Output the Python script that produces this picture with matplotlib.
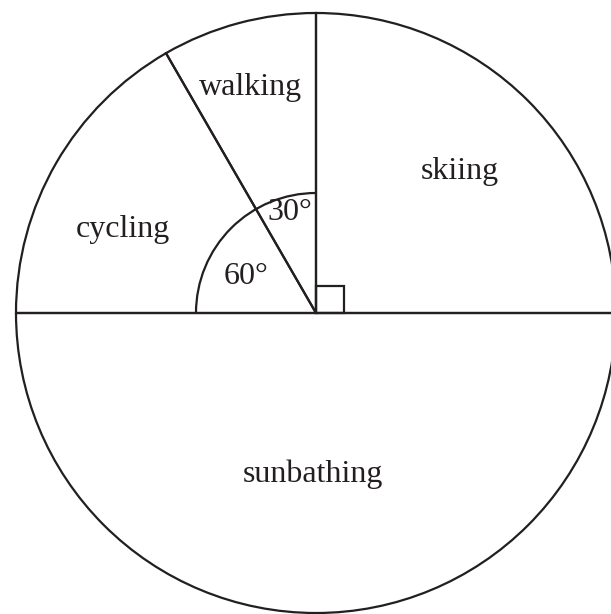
import matplotlib
matplotlib.use("Agg")
import matplotlib.pyplot as plt
from matplotlib.patches import Wedge, Arc, Rectangle

# sector data: activity and angle (degrees), counter-clockwise from east
activities = ["skiing", "walking", "cycling", "sunbathing"]
angles = [90, 30, 60, 180]
angle_marks = ["30°", "60°"]

INK = "#231f20"
CX, CY, R = 316, 313, 300

plt.rcParams["font.family"] = ["Liberation Serif", "DejaVu Serif"]

fig = plt.figure(figsize=(6.11, 6.14), dpi=100)
ax = fig.add_axes([0, 0, 1, 1])
ax.set_xlim(0, 611)
ax.set_ylim(0, 614)
ax.set_aspect("equal")
ax.axis("off")

# sectors (y flipped: image rows -> data y)
cy = 614 - CY
start = 0
for a in angles:
    ax.add_patch(Wedge((CX, cy), R, start, start + a, facecolor="none",
                       edgecolor=INK, lw=1.6))
    start += a

# angle arcs for walking and cycling, right angle box for skiing
ax.add_patch(Arc((CX, cy), 240, 240, theta1=90, theta2=180, color=INK, lw=1.6))
ax.add_patch(Rectangle((CX, cy), 28, 27, facecolor="none", edgecolor=INK, lw=1.6))

label_pos = {"skiing": (460, 171), "walking": (251, 88),
             "cycling": (123, 229), "sunbathing": (313, 474)}
for name in activities:
    x, y = label_pos[name]
    ax.text(x, 614 - y, name, ha="center", va="center", fontsize=23, color=INK)

for txt, (x, y) in zip(angle_marks, [(290, 212), (246, 277)]):
    ax.text(x, 614 - y, txt, ha="center", va="center", fontsize=23, color=INK)

fig.savefig("out.png", dpi=100)
